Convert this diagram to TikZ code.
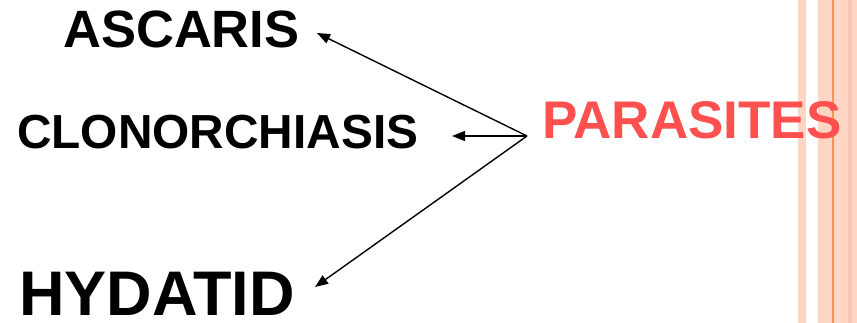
\documentclass[tikz,border=0pt]{standalone}
\usepackage{fontspec}
\setmainfont{Liberation Sans}
\usetikzlibrary{arrows.meta}
\definecolor{peach}{RGB}{255,213,196}
\definecolor{peachdark}{RGB}{252,199,178}
\definecolor{stripeorange}{RGB}{247,150,70}
\definecolor{parared}{RGB}{255,80,80}
\begin{document}
\begin{tikzpicture}[x=1pt,y=-1pt,>={Triangle[length=13pt,width=10pt]},
		every node/.style={inner sep=0pt,anchor=base west},
		wordstyle/.style={font=\bfseries\fontsize{#1}{#1}\selectfont},
		arrowstyle/.style={->,line width=1.4pt}]
		
		\useasboundingbox (0,0) rectangle (857,323);
		
		% stripes at the right edge
		\fill[peach] (798,0) rectangle (806,323);
		\fill[peach] (818,0) rectangle (857,323);
		\fill[peachdark] (848,0) rectangle (852,323);
		\fill[stripeorange] (832.3,0) rectangle (833.8,323);
		
		\node[wordstyle=52.5] (ascaris) at (63,48) {ASCARIS};
		\node[wordstyle=47.8] (clonorchiasis) at (17,149) {CLONORCHIASIS};
		\node[wordstyle=63] (hydatid) at (19,316) {HYDATID};
		\node[wordstyle=53] (parasites) [text=parared] at (542,139) {PARASITES};
		
		\coordinate (hub) at (527,136);
		\coordinate (a) at (317,33);
		\coordinate (c) at (452,136);
		\coordinate (h) at (315,287);
		
		\draw[arrowstyle] (hub) -- (a);
		\draw[arrowstyle] (hub) -- (c);
		\draw[arrowstyle] (hub) -- (h);
		\end{tikzpicture}
\end{document}
